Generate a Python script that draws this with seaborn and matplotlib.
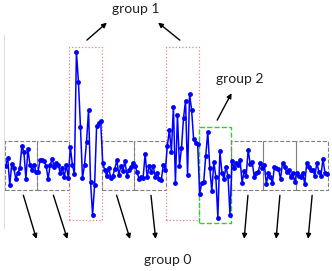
import numpy as np
import pandas as pd
import matplotlib
matplotlib.use('Agg')
import matplotlib.pyplot as plt
import seaborn as sns
from matplotlib.patches import Rectangle

# signal, 16 samples per segment
seg_values = [
    [-0.2, 0.6, -2.1, 0.0, -0.4, -1.5, -0.9, -0.4, 1.8, 1.2, -1.5, 1.5, -0.1, -0.6, -0.1, -0.8],
    [-0.8, 0.4, 0.4, 0.3, -0.2, -1.5, -0.1, 0.5, -0.3, 0.1, -0.1, -0.9, -0.4, -1.3, -0.1, -1.4],
    [1.7, -0.1, -1.0, 11.2, 8.2, 3.7, -1.4, -0.1, 2.2, 5.4, -1.8, -5.1, -2.1, 3.8, 4.1, 4.3],
    [0.1, -0.6, -1.2, -0.4, -1.4, -1.2, -0.5, 0.4, -1.1, -0.2, -0.7, 0.3, -1.2, -0.6, -0.3, 0.1],
    [-0.2, -0.8, -1.5, -1.3, -1.4, 1.0, -1.3, -0.2, -0.8, -0.2, -1.3, -0.9, -1.5, -1.6, -0.1, -0.6],
    [1.8, 3.4, 1.2, 5.7, -1.9, 4.9, -0.2, 1.6, 4.6, 6.3, -1.1, 7.0, 5.4, 2.5, 2.1, 2.0],
    [-3.0, -1.9, -1.8, 0.8, 3.2, -0.4, -2.7, 0.2, -1.3, -5.4, 1.3, -0.9, -1.5, -0.3, -1.2, -5.1],
    [0.3, -0.4, 0.1, -0.1, 0.4, -1.9, -0.7, -1.2, 1.4, 0.0, 0.2, -1.3, -0.9, -0.8, 0.1, -0.4],
    [-0.1, -2.0, -0.9, -1.3, -1.9, -0.3, -0.4, -0.5, -1.5, 0.1, -0.3, -0.8, -0.6, -1.3, -0.9, -1.8],
    [-0.9, -1.2, -1.3, -0.9, -2.0, 0.1, -0.3, -0.6, -0.6, -1.2, 0.1, -0.8, -1.2, 0.5, -0.9, -1.0],
]
seg_group = [0, 0, 1, 0, 0, 1, 2, 0, 0, 0]
group_style = {
    0: dict(edgecolor="grey", linestyle="--", lw=0.8),
    1: dict(edgecolor="lightcoral", linestyle=":", lw=0.9),
    2: dict(edgecolor="limegreen", linestyle="--", lw=1.0),
}

seg_len = len(seg_values[0])
df = pd.DataFrame({
    "t": np.arange(seg_len * len(seg_values)),
    "value": np.concatenate(seg_values),
    "group": np.repeat(seg_group, seg_len),
})

sns.set_style("white")
plt.rcParams["font.family"] = ["Lato", "DejaVu Sans"]
fig = plt.figure(figsize=(3.32, 2.71), dpi=100)
ax = fig.add_axes([0.012, 0.159, 0.982, 0.712])

sns.lineplot(data=df, x="t", y="value", color="blue", marker="o",
             markersize=3.5, markeredgewidth=0, lw=1.1, ax=ax)

pad = 0.5
for i, g in enumerate(seg_group):
    sub = df[df["group"] == g]
    lo, hi = sub["value"].min() - pad, sub["value"].max() + pad
    ax.add_patch(Rectangle((i * seg_len - 0.5, lo), seg_len, hi - lo,
                           fill=False, **group_style[g]))

ax.set_xlim(-0.85, 160.5)
ax.set_ylim(-6.4, 12.9)
ax.set_xticks([])
ax.set_yticks([])
ax.set_xlabel("")
ax.set_ylabel("")
sns.despine(ax=ax, bottom=True)
ax.spines["left"].set_color("#e0e0e0")

arrow = dict(arrowstyle="-|>", color="black", lw=1, mutation_scale=7)
tf = dict(fontsize=10, ha="center", va="center", color="#222222")

# group 1
ax.text(0.405, 1.132, "group 1", transform=ax.transAxes, **tf)
for tail, head in [((0.248, 0.964), (0.322, 1.073)), ((0.546, 0.964), (0.466, 1.073))]:
    ax.annotate("", xy=head, xytext=tail, xycoords="axes fraction",
                textcoords="axes fraction", arrowprops=arrow, annotation_clip=False)

# group 2
ax.text(0.724, 0.772, "group 2", transform=ax.transAxes, **tf)
ax.annotate("", xy=(0.702, 0.711), xytext=(0.650, 0.546), xycoords="axes fraction",
            textcoords="axes fraction", arrowprops=arrow, annotation_clip=False)

# group 0
ax.text(0.503, -0.166, "group 0", transform=ax.transAxes, **tf)
tails_x = [0.057, 0.149, 0.343, 0.450, 0.749, 0.847, 0.946]
heads_x = [0.102, 0.197, 0.389, 0.466, 0.736, 0.834, 0.932]
for tx, hx in zip(tails_x, heads_x):
    ax.annotate("", xy=(hx, -0.071), xytext=(tx, 0.183), xycoords="axes fraction",
                textcoords="axes fraction", arrowprops=arrow, annotation_clip=False)

fig.savefig("out.png", dpi=100)
